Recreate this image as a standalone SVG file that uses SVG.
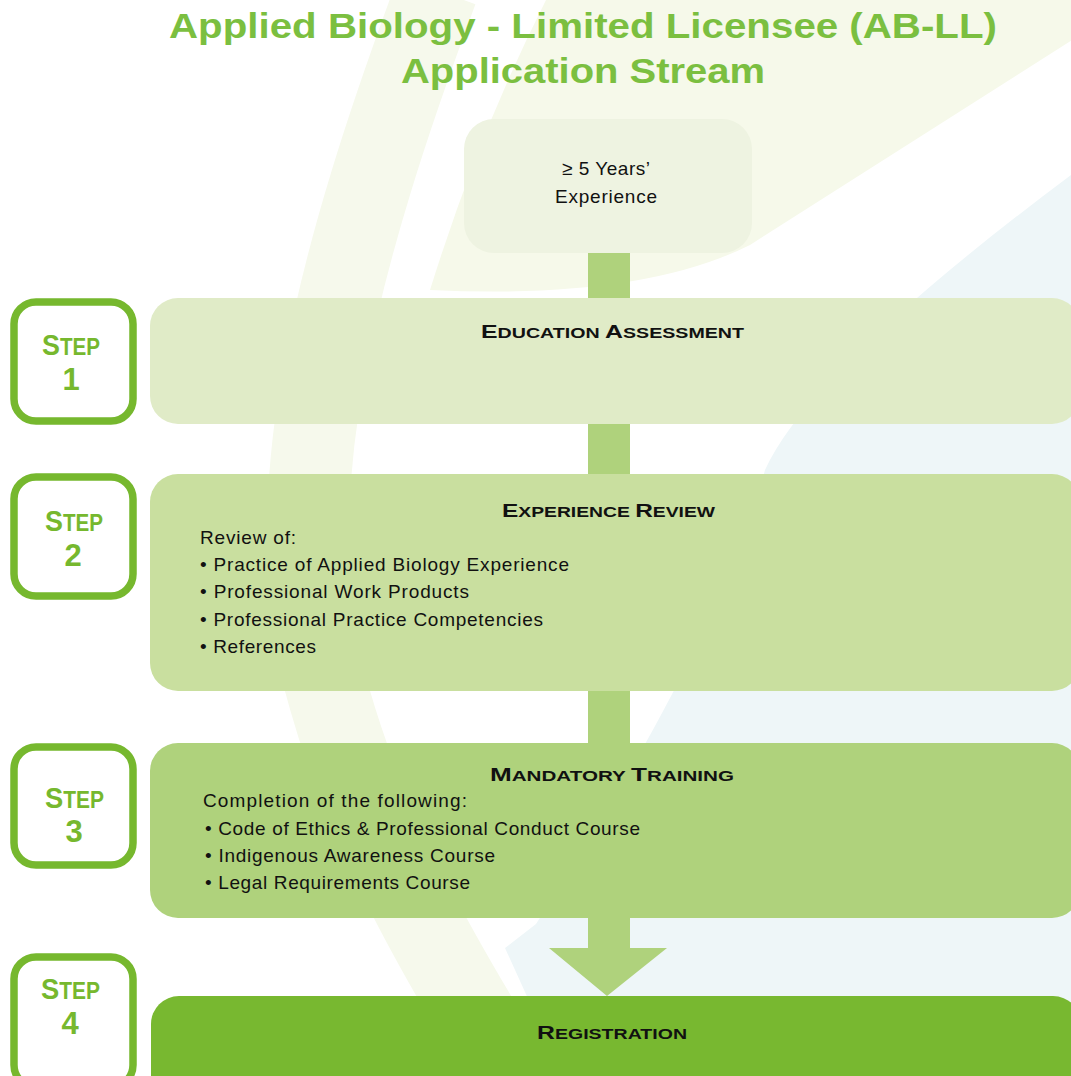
<svg xmlns="http://www.w3.org/2000/svg" width="1071" height="1076" viewBox="0 0 1071 1076">
<style>
.title{font-family:"Liberation Sans",Arial,sans-serif;font-weight:bold;fill:#7bbf40;font-size:35px}
.badge{fill:#ffffff;stroke:#76b82e;stroke-width:7.5}
.steptxt{font-family:"Liberation Sans",Arial,sans-serif;font-weight:bold;fill:#76b82e}
.head{font-family:"Liberation Sans",Arial,sans-serif;font-weight:bold;fill:#111111}
.body{font-family:"Liberation Sans",Arial,sans-serif;fill:#111111;font-size:19px}
.shaft{fill:#afd27c}
</style>
<rect width="1071" height="1076" fill="#ffffff"/>
<g id="background">
<path d="M546 0 L1135 0 L750 245 Q640 300 430 290 Q480 130 546 0 Z" fill="#f6f9ea"/>
<path d="M437 -10 C340 250 270 500 330 700 C370 840 440 960 520 1090" fill="none" stroke="#f6f9ec" stroke-width="82"/>
<path d="M1071 175 Q810 370 765 470 Q720 640 536 924 L505 948 L530 1003 L560 1076 L1071 1076 Z" fill="#eef6f8"/>
</g>
<g id="title">
<text class="title" x="169" y="38" textLength="828" lengthAdjust="spacingAndGlyphs">Applied Biology - Limited Licensee (AB-LL)</text>
<text class="title" x="401" y="83" textLength="364" lengthAdjust="spacingAndGlyphs">Application Stream</text>
</g>
<g id="connectors">
<rect class="shaft" x="588" y="252" width="42" height="48"/>
<rect class="shaft" x="588" y="422" width="42" height="54"/>
<rect class="shaft" x="588" y="689" width="42" height="55"/>
<path class="shaft" d="M588 915 L630 915 L630 948 L667 948 L607 996 L549 948 L588 948 Z"/>
</g>
<g id="node-experience">
<rect x="464" y="119" width="288" height="134" rx="30" fill="#eef3e1"/>
<text class="body" x="606" y="175" text-anchor="middle" textLength="88">≥ 5 Years’</text>
<text class="body" x="606" y="203" text-anchor="middle" textLength="102">Experience</text>
</g>
<g id="node-step1">
<rect x="150" y="298" width="930" height="126" rx="28" fill="#e0ebc7"/>
<text class="head" x="481" y="338" textLength="263" lengthAdjust="spacingAndGlyphs"><tspan font-size="19">E</tspan><tspan font-size="15">DUCATION </tspan><tspan font-size="19">A</tspan><tspan font-size="15">SSESSMENT</tspan></text>
</g>
<g id="node-step2">
<rect x="150" y="474" width="930" height="217" rx="28" fill="#c9df9f"/>
<text class="head" x="502" y="517" textLength="213" lengthAdjust="spacingAndGlyphs"><tspan font-size="19">E</tspan><tspan font-size="15">XPERIENCE </tspan><tspan font-size="19">R</tspan><tspan font-size="15">EVIEW</tspan></text>
<text class="body" x="200" y="544" textLength="96">Review of:</text>
<text class="body" x="200" y="571" textLength="369">• Practice of Applied Biology Experience</text>
<text class="body" x="200" y="598" textLength="269">• Professional Work Products</text>
<text class="body" x="200" y="626" textLength="343">• Professional Practice Competencies</text>
<text class="body" x="200" y="653" textLength="116">• References</text>
</g>
<g id="node-step3">
<rect x="150" y="743" width="930" height="175" rx="28" fill="#afd27c"/>
<text class="head" x="490" y="781" textLength="244" lengthAdjust="spacingAndGlyphs"><tspan font-size="19">M</tspan><tspan font-size="15">ANDATORY </tspan><tspan font-size="19">T</tspan><tspan font-size="15">RAINING</tspan></text>
<text class="body" x="203" y="807" textLength="264">Completion of the following:</text>
<text class="body" x="205" y="835" textLength="435">• Code of Ethics &amp; Professional Conduct Course</text>
<text class="body" x="205" y="862" textLength="290">• Indigenous Awareness Course</text>
<text class="body" x="205" y="889" textLength="265">• Legal Requirements Course</text>
</g>
<g id="node-step4">
<rect x="151" y="996" width="930" height="110" rx="28" fill="#78b830"/>
<text class="head" x="537" y="1039" textLength="150" lengthAdjust="spacingAndGlyphs"><tspan font-size="19">R</tspan><tspan font-size="15">EGISTRATION</tspan></text>
</g>
<g id="badge-step1">
<rect class="badge" x="14" y="302" width="119" height="119" rx="22"/>
<text class="steptxt" x="42" y="355" textLength="58" lengthAdjust="spacingAndGlyphs"><tspan font-size="30">S</tspan><tspan font-size="23">TEP</tspan></text>
<text class="steptxt" x="71" y="390" font-size="31" text-anchor="middle">1</text>
</g>
<g id="badge-step2">
<rect class="badge" x="14" y="477" width="119" height="119" rx="22"/>
<text class="steptxt" x="45" y="531" textLength="58" lengthAdjust="spacingAndGlyphs"><tspan font-size="30">S</tspan><tspan font-size="23">TEP</tspan></text>
<text class="steptxt" x="73" y="566" font-size="31" text-anchor="middle">2</text>
</g>
<g id="badge-step3">
<rect class="badge" x="14" y="747" width="119" height="118" rx="22"/>
<text class="steptxt" x="45" y="808" textLength="59" lengthAdjust="spacingAndGlyphs"><tspan font-size="30">S</tspan><tspan font-size="23">TEP</tspan></text>
<text class="steptxt" x="74" y="842" font-size="31" text-anchor="middle">3</text>
</g>
<g id="badge-step4">
<rect class="badge" x="14" y="957" width="119" height="130" rx="22"/>
<text class="steptxt" x="41" y="999" textLength="59" lengthAdjust="spacingAndGlyphs"><tspan font-size="30">S</tspan><tspan font-size="23">TEP</tspan></text>
<text class="steptxt" x="70" y="1034" font-size="31" text-anchor="middle">4</text>
</g>
</svg>
